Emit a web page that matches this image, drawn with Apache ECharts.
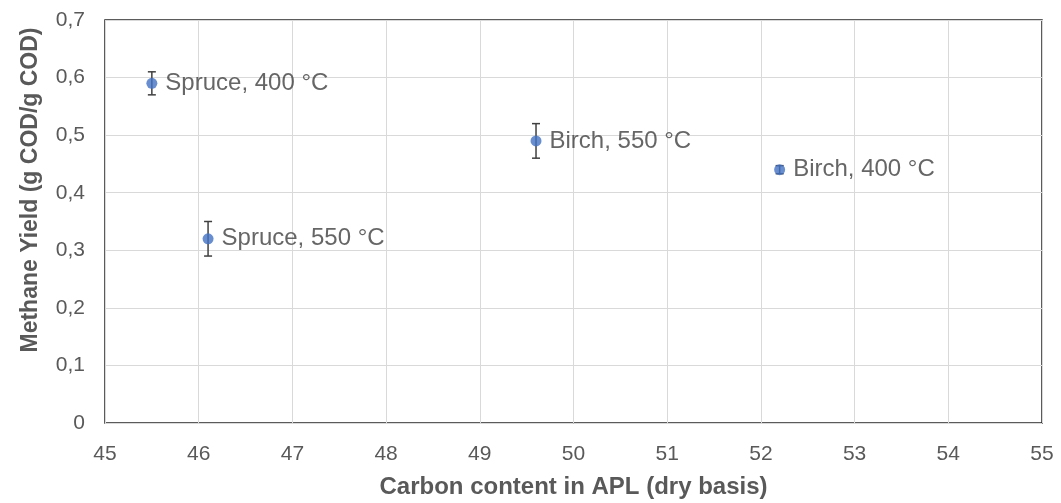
<!DOCTYPE html>
<html><head><meta charset="utf-8">
<script src="https://cdn.jsdelivr.net/npm/echarts@6/dist/echarts.min.js"></script>
<style>html,body{margin:0;padding:0;background:#fff}#c{width:1061px;height:503px}</style>
</head><body><div id="c"></div>
<script>
const names = ['Spruce, 400 °C', 'Spruce, 550 °C', 'Birch, 550 °C', 'Birch, 400 °C'];
const carbon = [45.5, 46.1, 49.6, 52.2];
const yieldVals = [0.59, 0.32, 0.49, 0.44];
const errors = [0.02, 0.03, 0.03, 0.007];
const xTicks = [45, 46, 47, 48, 49, 50, 51, 52, 53, 54, 55];
const yTicks = [0, 0.1, 0.2, 0.3, 0.4, 0.5, 0.6, 0.7];
const xTitle = 'Carbon content in APL (dry basis)';
const yTitle = 'Methane Yield (g COD/g COD)';

const pts = carbon.map((x, i) => ({ value: [x, yieldVals[i]], name: names[i] }));
const errData = carbon.map((x, i) => [x, yieldVals[i] - errors[i], yieldVals[i] + errors[i]]);
const fmt = v => (Math.abs(v) < 1e-9 ? '0' : (+v).toFixed(1).replace('.', ','));
const font = 'Liberation Sans, Arial, sans-serif';

const chart = echarts.init(document.getElementById('c'));
chart.setOption({
  animation: false,
  grid: { left: 105, right: 19, top: 20, bottom: 80, outerBoundsMode: 'none', containLabel: false, show: true, borderColor: '#262626', borderWidth: 1.5, backgroundColor: 'transparent' },
  graphic: [{
    type: 'text', x: 31, y: 190, rotation: Math.PI / 2,
    style: { text: yTitle, font: 'bold 23px ' + font, fill: '#595959', align: 'center', verticalAlign: 'middle' }
  }],
  xAxis: {
    type: 'value', min: xTicks[0], max: xTicks[xTicks.length - 1], interval: 1,
    name: xTitle, nameLocation: 'middle', nameGap: 52,
    nameTextStyle: { fontFamily: font, fontSize: 24, fontWeight: 'bold', color: '#595959' },
    axisLine: { show: false }, axisTick: { show: false },
    axisLabel: { fontFamily: font, fontSize: 21, color: '#595959', margin: 21 },
    splitLine: { show: true, lineStyle: { color: '#d9d9d9', width: 1 } }
  },
  yAxis: {
    type: 'value', min: 0, max: 0.7, interval: 0.1,
    axisLine: { show: false }, axisTick: { show: false },
    axisLabel: { fontFamily: font, fontSize: 21, color: '#595959', margin: 20, formatter: fmt },
    splitLine: { show: true, lineStyle: { color: '#d9d9d9', width: 1 } }
  },
  series: [
    {
      type: 'custom',
      data: errData,
      z: 3,
      renderItem: function (params, api) {
        const x = api.value(0);
        const lo = api.coord([x, api.value(1)]);
        const hi = api.coord([x, api.value(2)]);
        const cap = 4;
        const st = { stroke: '#404040', lineWidth: 1.5 };
        return {
          type: 'group',
          children: [
            { type: 'line', shape: { x1: lo[0], y1: lo[1], x2: hi[0], y2: hi[1] }, style: st },
            { type: 'line', shape: { x1: lo[0] - cap, y1: lo[1], x2: lo[0] + cap, y2: lo[1] }, style: st },
            { type: 'line', shape: { x1: hi[0] - cap, y1: hi[1], x2: hi[0] + cap, y2: hi[1] }, style: st }
          ]
        };
      }
    },
    {
      type: 'scatter',
      data: pts,
      z: 4,
      symbol: 'circle', symbolSize: 11,
      itemStyle: { color: '#4472C4' },
      label: {
        show: true, position: 'right', distance: 8,
        formatter: p => p.name,
        fontFamily: font, fontSize: 24, color: '#404040'
      }
    }
  ]
});
</script>
</body></html>
